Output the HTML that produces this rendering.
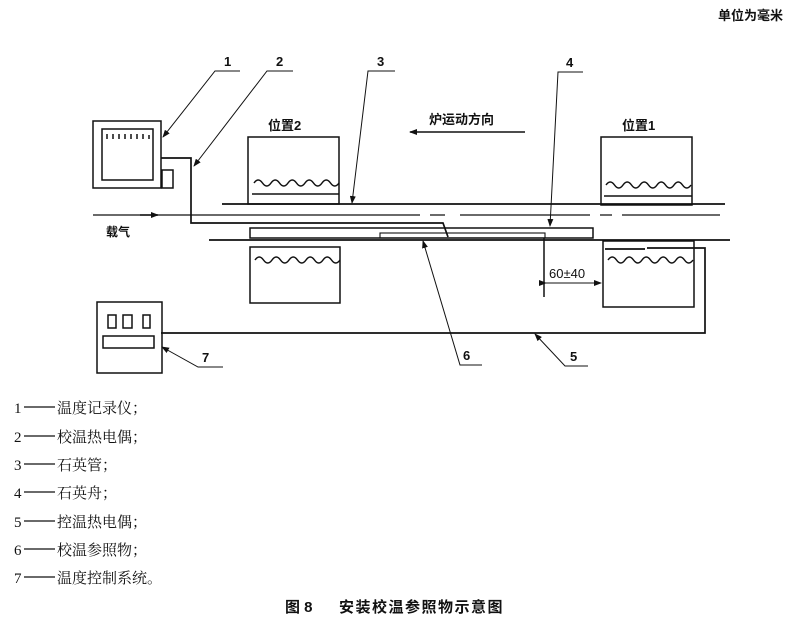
<!DOCTYPE html>
<html><head><meta charset="utf-8"><style>
body{margin:0;background:#fff;}
svg{display:block;}
text{font-family:"Liberation Serif","Noto Serif CJK SC",serif;fill:#111;}
.b{font-family:"Liberation Sans","Noto Sans CJK SC",sans-serif;font-weight:bold;}
.s{font-family:"Liberation Sans",sans-serif;}
</style></head><body>
<svg width="808" height="622" viewBox="0 0 808 622" xmlns="http://www.w3.org/2000/svg">
<defs><marker id="a" markerWidth="8" markerHeight="6" refX="7" refY="3" orient="auto" markerUnits="userSpaceOnUse"><path d="M0,0 L8,3 L0,6 z" fill="#111"/></marker></defs>
<g stroke="#111" fill="none" stroke-width="1.5">
<text x="718" y="20" class="b" font-size="13" stroke="none">单位为毫米</text>
<!-- recorder -->
<rect x="93" y="121" width="68" height="67"/>
<rect x="102" y="129" width="51" height="51"/>
<path d="M107,139v-5M113,139v-5M119,139v-5M125,139v-5M131,139v-5M137,139v-5M143,139v-5M149,139v-4"/>
<rect x="162" y="170" width="11" height="18"/>
<path d="M161,158H191V223H443L448,237" stroke-width="1.7"/>
<!-- tube -->
<path d="M222,204H725" stroke-width="1.7"/>
<path d="M209,240H730" stroke-width="1.7"/>
<path d="M93,215H420M430,215H445M460,215H590M600,215H612M622,215H720" stroke-width="1.2"/>
<path d="M140,215H158" marker-end="url(#a)"/>
<!-- boat and reference -->
<rect x="250" y="228" width="343" height="10"/>
<rect x="380" y="233" width="165" height="5" stroke-width="1.1"/>
<!-- pos2 boxes -->
<rect x="248" y="137" width="91" height="67"/>
<path d="M254,183q4.25,-6 8.5,0t8.5,0t8.5,0t8.5,0t8.5,0t8.5,0t8.5,0t8.5,0t8.5,0t8.5,0"/>
<path d="M252,194H339"/>
<rect x="250" y="247" width="90" height="56"/>
<path d="M255,260q4.25,-6 8.5,0t8.5,0t8.5,0t8.5,0t8.5,0t8.5,0t8.5,0t8.5,0t8.5,0t8.5,0"/>
<!-- pos1 boxes -->
<rect x="601" y="137" width="91" height="68"/>
<path d="M606,185q4.25,-6 8.5,0t8.5,0t8.5,0t8.5,0t8.5,0t8.5,0t8.5,0t8.5,0t8.5,0t8.5,0"/>
<path d="M604,196H692"/>
<rect x="603" y="241" width="91" height="66"/>
<path d="M608,260q4.25,-6 8.5,0t8.5,0t8.5,0t8.5,0t8.5,0t8.5,0t8.5,0t8.5,0t8.5,0t8.5,0"/>
<path d="M605,249H645M647,248H705V333H161" stroke-width="1.7"/>
<!-- dimension -->
<path d="M544,238V297"/>
<path d="M546,283H601" marker-end="url(#a)" marker-start="url(#a)" stroke-width="1"/>
<text x="549" y="278" font-size="13" stroke="none" class="s">60±40</text>
<!-- controller -->
<rect x="97" y="302" width="65" height="71"/>
<rect x="108" y="315" width="8" height="13"/>
<rect x="123" y="315" width="9" height="13"/>
<rect x="143" y="315" width="7" height="13"/>
<rect x="103" y="336" width="51" height="12"/>
<!-- direction -->
<path d="M525,132H410" marker-end="url(#a)"/>
<text x="429" y="124" class="b" font-size="13" stroke="none">炉运动方向</text>
<text x="268" y="130" class="b" font-size="13" stroke="none">位置2</text>
<text x="622" y="130" class="b" font-size="13" stroke="none">位置1</text>
<text x="106" y="236" class="b" font-size="12" stroke="none">载气</text>
<!-- leaders -->
<g stroke-width="1">
<path d="M240,71H215L163,137" marker-end="url(#a)"/>
<path d="M293,71H267L194,166" marker-end="url(#a)"/>
<path d="M395,71H368L352,203" marker-end="url(#a)"/>
<path d="M583,72H558L550,226" marker-end="url(#a)"/>
<path d="M482,365H460L423,241" marker-end="url(#a)"/>
<path d="M588,366H565L535,334" marker-end="url(#a)"/>
<path d="M223,367H198L162,347" marker-end="url(#a)"/>
</g>
<g stroke="none" font-size="13" class="b">
<text x="224" y="66" class="b">1</text>
<text x="276" y="66" class="b">2</text>
<text x="377" y="66" class="b">3</text>
<text x="566" y="67" class="b">4</text>
<text x="463" y="360" class="b">6</text>
<text x="570" y="361" class="b">5</text>
<text x="202" y="362" class="b">7</text>
</g>
<g stroke-width="1.2">
<path d="M24,407H55M24,436H55M24,464H55M24,492H55M24,521H55M24,549H55M24,577H55"/>
</g>
</g>
<g font-size="15">
<text x="14" y="413">1</text><text x="57" y="413">温度记录仪；</text>
<text x="14" y="442">2</text><text x="57" y="442">校温热电偶；</text>
<text x="14" y="470">3</text><text x="57" y="470">石英管；</text>
<text x="14" y="498">4</text><text x="57" y="498">石英舟；</text>
<text x="14" y="527">5</text><text x="57" y="527">控温热电偶；</text>
<text x="14" y="555">6</text><text x="57" y="555">校温参照物；</text>
<text x="14" y="583">7</text><text x="57" y="583">温度控制系统。</text>
</g>
<text x="285" y="612" class="b" font-size="15">图 8</text>
<text x="339" y="612" class="b" font-size="15" letter-spacing="1.5">安装校温参照物示意图</text>
</svg>
</body></html>
